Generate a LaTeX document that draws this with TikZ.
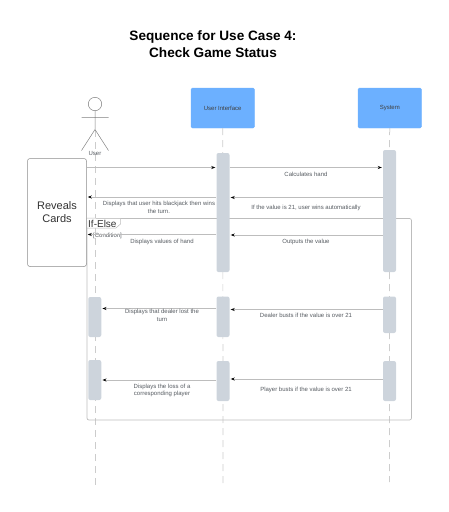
\documentclass[tikz,border=0pt]{standalone}
\usepackage{fontspec}
\setmainfont{Liberation Sans}
\usetikzlibrary{arrows.meta}
\definecolor{boxblue}{HTML}{6CB0FF}
\definecolor{barcol}{HTML}{CDD4DC}
\definecolor{linecol}{HTML}{BDBDBD}
\definecolor{txtcol}{HTML}{555A60}
\tikzset{
	head/.style={draw=boxblue, fill=boxblue, rounded corners=1.5pt, minimum width=63.5pt, minimum height=40pt, inner sep=0pt, font=\fontsize{6}{7}\selectfont, text=black!75},
	bar/.style={fill=barcol, rounded corners=2pt, minimum width=13pt, inner sep=0pt},
	msg/.style={draw=linecol, line width=0.7pt, -{Stealth[black,length=4pt,width=3pt]}, shorten >=1pt},
	lifeline/.style={draw=black!20, line width=0.7pt, dash pattern=on 7pt off 5pt},
	label/.style={font=\fontsize{6}{7.6}\selectfont, text=txtcol, align=center, inner sep=0pt}
}
\begin{document}
\begin{tikzpicture}[x=1pt, y=-1pt, line join=round]
	\useasboundingbox (0,0) rectangle (449,512);
	% title
	\node[font=\bfseries\fontsize{13.6}{17}\selectfont, align=center, inner sep=0pt] (title) at (213,44.5) {Sequence for Use Case 4:\\Check Game Status};
	% lifelines
	\node[head] (uiHead) at (222.75,108) {User Interface};
	\node[head] (sysHead) at (389.75,108) {System};
	\coordinate (userTop) at (95,130);
	\coordinate (userEnd) at (95,488);
	\coordinate (uiEnd) at (223,488);
	\coordinate (sysEnd) at (389.5,482);
	\draw[lifeline] (userTop) -- (userEnd);
	\draw[lifeline] (uiHead.south) -- (uiEnd);
	\draw[lifeline, line width=0.5pt, draw=black!30] (sysHead.south) -- (sysEnd);
	% user
	\node[circle, draw=black!50, line width=0.5pt, minimum size=13.4pt, inner sep=0pt] (userFace) at (95,104) {};
	\coordinate (userHip) at (95,129.5);
	\coordinate (armL) at (81.5,117.3);
	\coordinate (armR) at (108.5,117.3);
	\coordinate (footL) at (81.5,150.5);
	\coordinate (footR) at (108.5,150.5);
	\draw[draw=black!50, line width=0.5pt] (userFace) -- (userHip) (armL) -- (armR) (footL) -- (userHip) -- (footR);
	\node[label] (userName) at (95,153.5) {User};
	% frame
	\node[draw=linecol, line width=0.7pt, rounded corners=2pt, minimum width=324.5pt, minimum height=201.5pt, inner sep=0pt] (frame) at (249.25,319.25) {};
	\draw[draw=linecol, line width=0.5pt, fill=white] (frame.north west) -- (120.5,218.5) -- (120.5,224) -- (116,228) -- (87,228) -- cycle;
	\node[font=\fontsize{10}{12}\selectfont, text=black!80, anchor=west, inner sep=0pt] (ifElse) at (88,223.5) {If-Else};
	\node[label, anchor=west] (cond) at (93,235.5) {[Condition]};
	% reveal box
	\node[draw=black!45, line width=0.5pt, fill=white, rounded corners=2.5pt, minimum width=59pt, minimum height=108pt, align=center, inner sep=0pt, font=\fontsize{11}{13}\selectfont, text=black!80] (reveal) at (57,212.5) {Reveals\\Cards};
	% activation bars
	\node[bar, minimum height=119pt] (uiA) at (223,212.5) {};
	\node[bar, minimum height=122pt] (sysA) at (389.5,211) {};
	\node[bar, minimum height=40pt] (userB) at (94.75,317) {};
	\node[bar, minimum height=40.5pt] (uiB) at (223,316.75) {};
	\node[bar, minimum height=36.5pt] (sysB) at (389.5,314.75) {};
	\node[bar, minimum height=40pt] (userC) at (94.75,380) {};
	\node[bar, minimum height=40pt] (uiC) at (223,381) {};
	\node[bar, minimum height=40pt] (sysC) at (389.5,381) {};
	% messages
	\draw[msg] (reveal.east |- 0,167.5) -- (uiA.west |- 0,167.5);
	\draw[msg] (uiA.east |- 0,167.5) -- (sysA.west |- 0,167.5);
	\draw[msg] (uiA.west |- 0,197) -- (reveal.east |- 0,197);
	\draw[msg] (sysA.west |- 0,197.5) -- (uiA.east |- 0,197.5);
	\draw[msg] (uiA.west |- 0,234.5) -- (reveal.east |- 0,234.5);
	\draw[msg] (sysA.west |- 0,235) -- (uiA.east |- 0,235);
	\draw[msg] (uiB.west |- 0,308.5) -- (userB.east |- 0,308.5);
	\draw[msg] (sysB.west |- 0,309.5) -- (uiB.east |- 0,309.5);
	\draw[msg] (uiC.west |- 0,380) -- (userC.east |- 0,380);
	\draw[msg] (sysC.west |- 0,379) -- (uiC.east |- 0,379);
	% message labels
	\node[label] (calc) at (306,174) {Calculates hand};
	\node[label] (hits) at (159,207.5) {Displays that user hits blackjack then wins\\the turn.};
	\node[label] (auto) at (306,207.5) {If the value is 21, user wins automatically};
	\node[label] (values) at (162,241.5) {Displays values of hand};
	\node[label] (outputs) at (306,241.5) {Outputs the value};
	\node[label] (lost) at (162,315.5) {Displays that dealer lost the\\turn};
	\node[label] (dealer) at (306,315.5) {Dealer busts if the value is over 21};
	\node[label] (loss) at (162,390.3) {Displays the loss of a\\corresponding player};
	\node[label] (player) at (306,389.5) {Player busts if the value is over 21};
\end{tikzpicture}
\end{document}
